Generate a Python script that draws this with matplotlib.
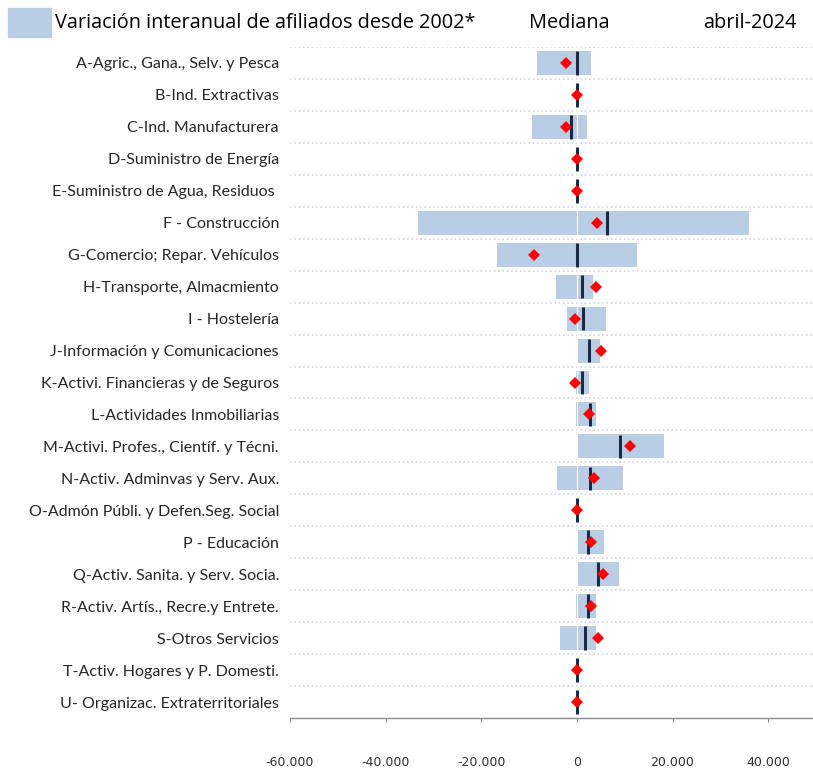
import matplotlib
matplotlib.use("Agg")
import matplotlib.pyplot as plt
from matplotlib.patches import Rectangle
from matplotlib.ticker import FuncFormatter
import numpy as np

categories = [
    "A-Agric., Gana., Selv. y Pesca",
    "B-Ind. Extractivas",
    "C-Ind. Manufacturera",
    "D-Suministro de Energía",
    "E-Suministro de Agua, Residuos ",
    "F - Construcción",
    "G-Comercio; Repar. Vehículos",
    "H-Transporte, Almacmiento",
    "I - Hostelería",
    "J-Información y Comunicaciones",
    "K-Activi. Financieras y de Seguros",
    "L-Actividades Inmobiliarias",
    "M-Activi. Profes., Científ. y Técni.",
    "N-Activ. Adminvas y Serv. Aux.",
    "O-Admón Públi. y Defen.Seg. Social",
    "P - Educación",
    "Q-Activ. Sanita. y Serv. Socia.",
    "R-Activ. Artís., Recre.y Entrete.",
    "S-Otros Servicios",
    "T-Activ. Hogares y P. Domesti.",
    "U- Organizac. Extraterritoriales",
]
range_low = [-8270, 0, -9370, 0, 0, -33300, -16700, -4400, -2150, 0, -150,
             -150, 0, -4170, 0, 0, 0, -150, -3520, 0, 0]
range_high = [2850, 0, 2150, 0, 0, 35900, 12500, 3470, 6100, 4800, 2560,
              3900, 18200, 9580, 0, 5600, 8750, 4080, 4080, 0, 0]
mediana = [0, 0, -1300, 0, 0, 6200, 0, 1040, 1320, 2430, 1040,
           2640, 8960, 2640, 0, 2370, 4310, 2370, 1730, 0, 0]
abril_2024 = [-2200, 0, -2200, 0, 0, 4200, -9000, 3900, -490, 5000, -400,
              2570, 11200, 3540, 0, 3020, 5370, 3020, 4370, 0, 0]
x_ticks = [-60000, -40000, -20000, 0, 20000, 40000]

W, H = 813, 769
fig = plt.figure(figsize=(W / 100, H / 100), dpi=100)
ax = fig.add_axes([290 / W, 1 - 718 / H, (813 - 290) / W, (718 - 47) / H])

y = np.arange(len(categories))
lo = np.array(range_low)
hi = np.array(range_high)

bar_color = "#b9cde5"
ax.barh(y, hi - lo, left=lo, height=0.75, color=bar_color, zorder=2)
ax.axvline(0, color="white", lw=0.8, zorder=2.5)
ax.vlines(mediana, y - 0.37, y + 0.37, color="#1c2a44", lw=2.2, zorder=3)
ax.plot(abril_2024, y, linestyle="none", marker="D", markersize=6.3,
        color="#ff0000", markeredgewidth=0, zorder=4)

ax.set_xlim(-60000, 49375)
ax.set_ylim(len(categories) - 0.5, -0.5)

# dotted separators
for b in np.arange(-0.5, len(categories) - 1, 1.0):
    ax.axhline(b, color="#cdd5e1", lw=1.2, linestyle=(0, (1, 1.6)), zorder=1)

ax.set_yticks(y)
ax.set_yticklabels(categories, fontfamily="Lato", fontsize=11.5, color="#262626")
ax.tick_params(axis="y", length=0, pad=8)

ax.set_xticks(x_ticks)
ax.xaxis.set_major_formatter(FuncFormatter(lambda v, p: f"{int(v):,}".replace(",", ".")))
ax.tick_params(axis="x", length=3, width=0.8, color="#8c8c8c", pad=24,
               labelsize=9, labelcolor="#303030")
for lab in ax.get_xticklabels():
    lab.set_fontfamily("DejaVu Sans")

for s in ["top", "right", "left"]:
    ax.spines[s].set_visible(False)
ax.spines["bottom"].set_color("#8c8c8c")
ax.spines["bottom"].set_linewidth(1.0)

# header legend
fig.add_artist(Rectangle((8 / W, 1 - 37 / H), 43 / W, 29 / H,
                         transform=fig.transFigure, color=bar_color))
hdr = dict(fontfamily="Open Sans", fontsize=14.3, va="center", ha="left", color="#000000")
fig.text(55 / W, 1 - 23 / H, "Variación interanual de afiliados desde 2002*", **hdr)
fig.text(529 / W, 1 - 23 / H, "Mediana", **hdr)
fig.text(703 / W, 1 - 23 / H, "abril-2024", **hdr)

fig.savefig("out.png", dpi=100)
